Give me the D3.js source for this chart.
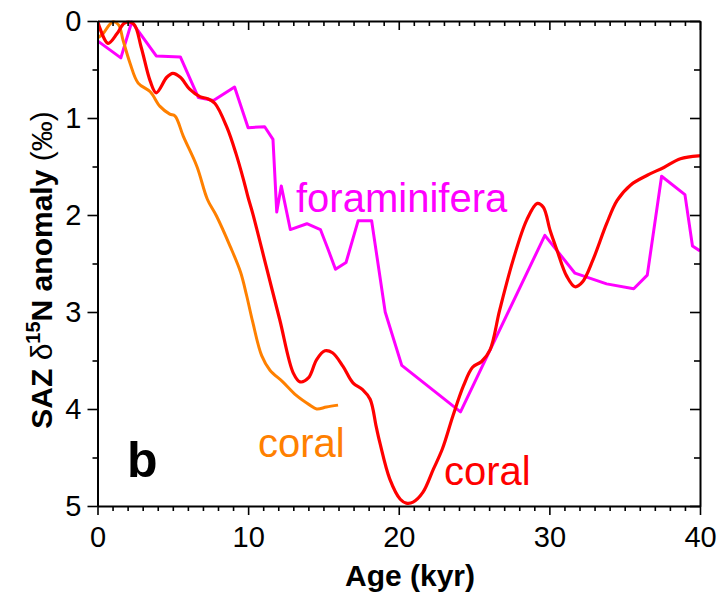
<!DOCTYPE html>
<html>
<head>
<meta charset="utf-8">
<script src="https://cdn.jsdelivr.net/npm/d3@7"></script>
<style>
  html, body { margin: 0; padding: 0; background: #fff; }
  svg { display: block; font-family: "Liberation Sans", Arial, sans-serif; }
</style>
</head>
<body>
<svg id="chart" width="721" height="600"></svg>
<script>
// Coral-bound δ15N record (long red series), ages in kyr, anomaly in ‰
const coralRedAge = [0, 0.7, 1.3, 1.8, 2.4, 2.9, 3.5, 3.9, 4.6, 5.0, 5.5, 6.1, 6.8, 7.3, 7.8, 8.6, 9.2, 9.7, 10.0, 10.3, 11.2, 12.1, 13.0, 13.45, 14.0, 14.55, 15.1, 15.6, 16.3, 16.96, 17.6, 18.1, 18.5, 18.75, 19.4, 20.1, 20.5, 20.95, 21.6, 22.3, 22.9, 23.6, 24.3, 24.9, 25.5, 26.06, 26.7, 27.6, 28.5, 29.2, 29.6, 30.05, 30.5, 31.15, 31.7, 32.2, 32.9, 33.8, 34.5, 35.4, 36.5, 37.6, 38.7, 39.9, 40];
const coralRedVal = [0, 0.23, 0.13, 0.02, 0.03, 0.27, 0.62, 0.74, 0.58, 0.54, 0.58, 0.70, 0.78, 0.80, 0.85, 1.10, 1.37, 1.64, 1.82, 1.98, 2.53, 3.08, 3.63, 3.72, 3.68, 3.49, 3.40, 3.42, 3.56, 3.73, 3.80, 3.90, 4.18, 4.35, 4.72, 4.93, 4.97, 4.96, 4.86, 4.62, 4.41, 4.07, 3.76, 3.57, 3.51, 3.39, 2.98, 2.46, 2.05, 1.88, 1.92, 2.16, 2.36, 2.63, 2.74, 2.69, 2.46, 2.09, 1.85, 1.69, 1.59, 1.51, 1.42, 1.39, 1.39];

// Second coral record (orange series)
const coralOrangeAge = [0.05, 0.37, 1.0, 1.4, 1.7, 2.15, 2.7, 3.5, 4.15, 4.8, 5.15, 5.7, 6.6, 7.3, 7.9, 8.8, 9.5, 9.9, 10.3, 10.9, 11.45, 12.3, 13.2, 14.1, 14.55, 15.2, 15.97];
const coralOrangeVal = [0.17, 0.13, 0.01, 0.04, 0.20, 0.43, 0.64, 0.73, 0.88, 0.96, 0.98, 1.19, 1.50, 1.84, 2.01, 2.32, 2.59, 2.83, 3.10, 3.45, 3.60, 3.72, 3.86, 3.96, 4.00, 3.98, 3.96];

// Foraminifera-bound δ15N record (magenta series)
const foramAge = [0.05, 1.55, 2.27, 3.9, 5.5, 6.7, 7.7, 9.1, 10.0, 11.1, 11.65, 11.9, 12.2, 12.8, 13.9, 14.8, 15.3, 15.8, 16.5, 17.3, 18.2, 19.1, 20.2, 24.1, 29.7, 31.7, 33.8, 35.6, 36.5, 37.45, 39.0, 39.5, 40];
const foramVal = [0.21, 0.38, 0.01, 0.36, 0.37, 0.79, 0.82, 0.68, 1.10, 1.09, 1.22, 1.97, 1.70, 2.15, 2.09, 2.15, 2.35, 2.56, 2.49, 2.06, 2.06, 3.00, 3.55, 4.03, 2.21, 2.60, 2.71, 2.76, 2.62, 1.60, 1.79, 2.32, 2.37];

// Axis tick values
const xMajorTicks = [0, 10, 20, 30, 40];
const xMinorTicks = d3.range(0, 41, 1).filter(v => v % 10 !== 0);
const yMajorTicks = [0, 1, 2, 3, 4, 5];
const yMinorTicks = [0.5, 1.5, 2.5, 3.5, 4.5];

const svg = d3.select("#chart");
const plotLeft = 97.5, plotRight = 700, plotTop = 21, plotBottom = 506;

const x = d3.scaleLinear().domain([0, 40]).range([plotLeft, plotRight]);
const y = d3.scaleLinear().domain([0, 5]).range([plotTop, plotBottom]);

const zip = (a, b) => a.map((v, i) => [v, b[i]]);

// Clip the curves to the plotting frame
svg.append("clipPath").attr("id", "plotClip")
  .append("rect").attr("x", plotLeft).attr("y", plotTop - 2)
  .attr("width", plotRight - plotLeft).attr("height", plotBottom - plotTop + 4);

const plot = svg.append("g").attr("clip-path", "url(#plotClip)");

const linearLine = d3.line().x(d => x(d[0])).y(d => y(d[1]));
const smoothLine = d3.line().x(d => x(d[0])).y(d => y(d[1])).curve(d3.curveCatmullRom.alpha(0.5));

plot.append("path").datum(zip(foramAge, foramVal))
  .attr("d", linearLine).attr("fill", "none")
  .attr("stroke", "#ff00ff").attr("stroke-width", 3).attr("stroke-linejoin", "round");

plot.append("path").datum(zip(coralOrangeAge, coralOrangeVal))
  .attr("d", smoothLine).attr("fill", "none")
  .attr("stroke", "#ff8000").attr("stroke-width", 3).attr("stroke-linejoin", "round");

plot.append("path").datum(zip(coralRedAge, coralRedVal))
  .attr("d", smoothLine).attr("fill", "none")
  .attr("stroke", "#ff0000").attr("stroke-width", 3.2).attr("stroke-linejoin", "round");

// Axes: majors carry labels, minors are short unlabeled ticks
function styleAxis(g, labels) {
  g.selectAll("path.domain").attr("stroke", "#000").attr("stroke-width", 2);
  g.selectAll(".tick line").attr("stroke", "#000").attr("stroke-width", 1.6);
  g.selectAll(".tick text").attr("fill", "#000")
    .style("font-family", '"Liberation Sans", Arial, sans-serif')
    .style("font-size", "29px");
  if (!labels) g.selectAll(".tick text").remove();
}

// bottom
svg.append("g").attr("transform", `translate(0,${plotBottom})`)
  .call(d3.axisBottom(x).tickValues(xMinorTicks).tickSize(5).tickSizeOuter(0))
  .call(g => { styleAxis(g, false); g.select(".domain").remove(); });
svg.append("g").attr("transform", `translate(0,${plotBottom})`)
  .call(d3.axisBottom(x).tickValues(xMajorTicks).tickFormat(d3.format("d")).tickSize(9).tickSizeOuter(0).tickPadding(11))
  .call(g => styleAxis(g, true));

// top (inward ticks)
svg.append("g").attr("transform", `translate(0,${plotTop})`)
  .call(d3.axisTop(x).tickValues(xMinorTicks).tickSize(-5).tickSizeOuter(0))
  .call(g => { styleAxis(g, false); g.select(".domain").remove(); });
svg.append("g").attr("transform", `translate(0,${plotTop})`)
  .call(d3.axisTop(x).tickValues(xMajorTicks).tickSize(-9).tickSizeOuter(0))
  .call(g => styleAxis(g, false));

// left
svg.append("g").attr("transform", `translate(${plotLeft},0)`)
  .call(d3.axisLeft(y).tickValues(yMinorTicks).tickSize(5).tickSizeOuter(0))
  .call(g => { styleAxis(g, false); g.select(".domain").remove(); });
svg.append("g").attr("transform", `translate(${plotLeft},0)`)
  .call(d3.axisLeft(y).tickValues(yMajorTicks).tickFormat(d3.format("d")).tickSize(10).tickSizeOuter(0).tickPadding(6))
  .call(g => styleAxis(g, true));

// right (inward ticks)
svg.append("g").attr("transform", `translate(${plotRight},0)`)
  .call(d3.axisRight(y).tickValues(yMinorTicks).tickSize(-6).tickSizeOuter(0))
  .call(g => { styleAxis(g, false); g.select(".domain").remove(); });
svg.append("g").attr("transform", `translate(${plotRight},0)`)
  .call(d3.axisRight(y).tickValues(yMajorTicks).tickSize(-10).tickSizeOuter(0))
  .call(g => styleAxis(g, false));

// Axis titles
svg.append("text")
  .attr("x", 410).attr("y", 586)
  .attr("text-anchor", "middle")
  .style("font-size", "30px").style("font-weight", "bold")
  .text("Age (kyr)");

const yt = svg.append("text")
  .attr("transform", "translate(52,270) rotate(-90)")
  .attr("text-anchor", "middle")
  .style("font-size", "30px");
yt.append("tspan").style("font-weight", "bold").text("SAZ ");
yt.append("tspan").text("δ");
yt.append("tspan").style("font-weight", "bold").style("font-size", "20px").attr("dy", -12).text("15");
yt.append("tspan").style("font-weight", "bold").attr("dy", 12).text("N anomaly ");
yt.append("tspan").text("(‰)");

// Series labels and panel letter
svg.append("text").attr("x", 296).attr("y", 212)
  .style("font-size", "40px").attr("fill", "#ff00ff").text("foraminifera");
svg.append("text").attr("x", 258).attr("y", 457)
  .style("font-size", "40px").attr("fill", "#ff8000").text("coral");
svg.append("text").attr("x", 444).attr("y", 485)
  .style("font-size", "40px").attr("fill", "#ff0000").text("coral");
svg.append("text").attr("x", 127).attr("y", 477)
  .style("font-size", "50px").style("font-weight", "bold").attr("fill", "#000").text("b");
</script>
</body>
</html>
